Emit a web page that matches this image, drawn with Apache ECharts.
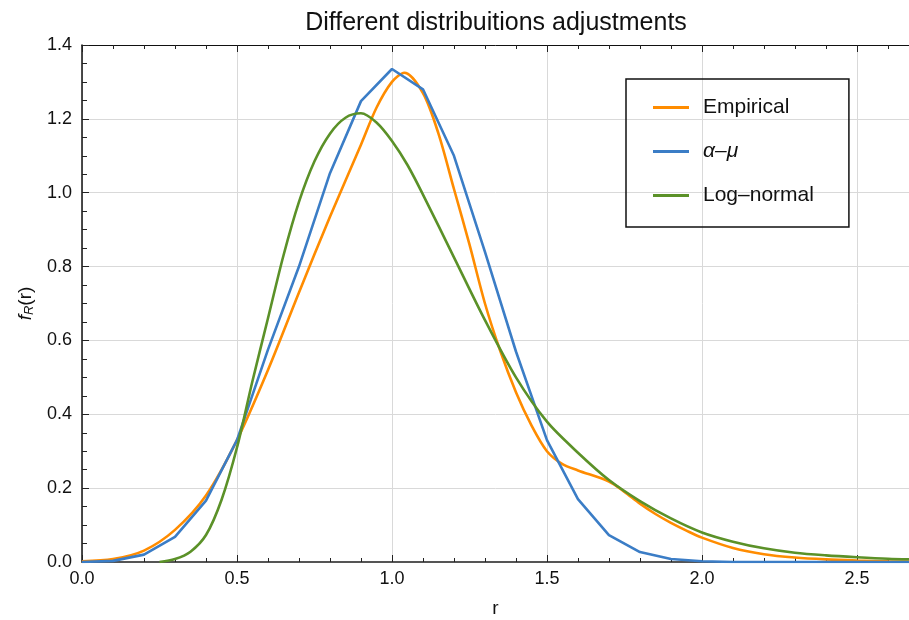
<!DOCTYPE html>
<html lang="en">
<head>
  <meta charset="UTF-8">
  <title>Different distribuitions adjustments</title>
  <script src="https://cdn.jsdelivr.net/npm/echarts@6/dist/echarts.min.js"></script>
</head>
<body style="margin: 0;padding: 0;background: #fff;">
  <div id="main" style="width: 909px;height: 620px;"></div>
  <script>
    // values
    var rEmpirical = [0, 0.1, 0.2, 0.3, 0.4, 0.5, 0.6, 0.7, 0.8, 0.9, 0.95, 1.0, 1.04, 1.1, 1.15, 1.2, 1.25, 1.3, 1.35, 1.4, 1.45, 1.5, 1.55, 1.6, 1.7, 1.75, 1.8, 1.85, 1.9, 1.95, 2.0, 2.1, 2.2, 2.3, 2.4, 2.5, 2.6, 2.7];
    var empirical = [0.002, 0.008, 0.031, 0.087, 0.18, 0.33, 0.52, 0.73, 0.935, 1.13, 1.23, 1.30, 1.325, 1.27, 1.16, 1.01, 0.86, 0.70, 0.57, 0.46, 0.37, 0.30, 0.265, 0.248, 0.218, 0.19, 0.158, 0.13, 0.106, 0.085, 0.066, 0.038, 0.021, 0.012, 0.007, 0.004, 0.002, 0.001];

    var rAlphaMu = [0, 0.1, 0.2, 0.3, 0.4, 0.5, 0.6, 0.7, 0.8, 0.9, 1.0, 1.1, 1.2, 1.3, 1.4, 1.5, 1.6, 1.7, 1.8, 1.9, 2.0, 2.1, 2.2, 2.3, 2.4, 2.5, 2.6, 2.7];
    var alphaMu = [0, 0.003, 0.02, 0.068, 0.166, 0.33, 0.575, 0.80, 1.053, 1.248, 1.335, 1.28, 1.10, 0.84, 0.57, 0.33, 0.17, 0.073, 0.027, 0.008, 0.002, 0, 0, 0, 0, 0, 0, 0];

    var rLogNormal = [0.25, 0.3, 0.35, 0.4, 0.45, 0.5, 0.55, 0.6, 0.65, 0.7, 0.75, 0.8, 0.85, 0.9, 0.95, 1.0, 1.05, 1.1, 1.2, 1.3, 1.4, 1.5, 1.6, 1.7, 1.8, 1.9, 2.0, 2.1, 2.2, 2.3, 2.4, 2.5, 2.6, 2.7];
    var logNormal = [0, 0.008, 0.028, 0.073, 0.168, 0.31, 0.49, 0.66, 0.83, 0.975, 1.085, 1.16, 1.203, 1.215, 1.19, 1.14, 1.075, 0.995, 0.825, 0.655, 0.50, 0.38, 0.296, 0.222, 0.165, 0.118, 0.08, 0.055, 0.037, 0.025, 0.018, 0.013, 0.009, 0.007];

    var xTicks = [0, 0.5, 1.0, 1.5, 2.0, 2.5];
    var yTicks = [0, 0.2, 0.4, 0.6, 0.8, 1.0, 1.2, 1.4];

    function pairs(xs, ys) {
      return xs.map(function (x, i) { return [x, ys[i]]; });
    }

    var font = 'Liberation Sans, Arial, Helvetica, sans-serif';
    var chart = echarts.init(document.getElementById('main'));

    var option = {
      animation: false,
      backgroundColor: '#fff',
      textStyle: { fontFamily: font },
      title: {
        text: 'Different distribuitions adjustments',
        left: 491,
        textAlign: 'center',
        top: 6,
        textStyle: { fontFamily: font, fontSize: 25, fontWeight: 'normal', color: '#111' }
      },
      legend: {
        orient: 'vertical',
        left: 626,
        top: 79,
        padding: [18, 35, 21, 27],
        itemGap: 23,
        itemWidth: 36,
        itemHeight: 3,
        icon: 'rect',
        borderColor: '#111',
        borderWidth: 1.5,
        borderRadius: 0,
        textStyle: {
          fontFamily: font, fontSize: 21, color: '#111', padding: [0, 0, 0, 9],
          rich: { it: { fontStyle: 'italic', fontSize: 21, fontFamily: font, color: '#111' } }
        },
        data: ['Empirical', 'α–μ', 'Log–normal'],
        formatter: function (name) {
          return name === 'α–μ' ? '{it|α–μ}' : name;
        }
      },
      grid: { left: 82, right: 0, top: 45, bottom: 58, containLabel: false, outerBoundsMode: 'none' },
      xAxis: [{
        type: 'value',
        min: 0,
        max: 2.668,
        interval: 0.5,
        name: 'r',
        nameLocation: 'middle',
        nameGap: 37,
        nameTextStyle: { fontFamily: font, fontSize: 19, color: '#111' },
        axisLine: { onZero: false, lineStyle: { color: '#555', width: 2 } },
        axisTick: { inside: true, length: 7, lineStyle: { color: '#222' } },
        minorTick: { show: true, splitNumber: 5, length: 4, lineStyle: { color: '#222' } },
        axisLabel: {
          margin: 8, fontSize: 18, color: '#111', showMaxLabel: false,
          formatter: function (v) { return xTicks.indexOf(v) >= 0 ? v.toFixed(1) : ''; }
        },
        splitLine: { show: true, lineStyle: { color: '#d9d9d9', width: 1 } }
      }, {
        type: 'value',
        position: 'top',
        min: 0,
        max: 2.668,
        interval: 0.5,
        axisLine: { show: true, onZero: false, lineStyle: { color: '#111', width: 1 } },
        axisTick: { inside: true, length: 7, lineStyle: { color: '#222' } },
        minorTick: { show: true, splitNumber: 5, length: 4, lineStyle: { color: '#222' } },
        axisLabel: { show: false },
        splitLine: { show: false }
      }],
      yAxis: {
        type: 'value',
        min: 0,
        max: 1.4,
        interval: 0.2,
        name: '{f|f}{s|R}{n|(r)}',
        nameLocation: 'middle',
        nameRotate: 90,
        nameGap: 38,
        nameTextStyle: {
          color: '#111',
          rich: {
            f: { fontFamily: font, fontStyle: 'italic', fontSize: 19, color: '#111' },
            s: { fontFamily: font, fontStyle: 'italic', fontSize: 13, color: '#111', padding: [8, 0, 0, 0] },
            n: { fontFamily: font, fontSize: 19, color: '#111' }
          }
        },
        axisLine: { show: true, onZero: false, lineStyle: { color: '#111', width: 1.5 } },
        axisTick: { inside: true, length: 7, lineStyle: { color: '#222' } },
        minorTick: { show: true, splitNumber: 4, length: 5, lineStyle: { color: '#222' } },
        axisLabel: {
          margin: 10, fontSize: 18, color: '#111',
          formatter: function (v) { return v.toFixed(1); }
        },
        splitLine: { show: true, lineStyle: { color: '#d9d9d9', width: 1 } }
      },
      series: [
        {
          name: 'Empirical',
          type: 'line',
          data: pairs(rEmpirical, empirical),
          smooth: 0.3,
          showSymbol: false,
          color: '#ff8c00',
          lineStyle: { width: 2.6 },
          z: 3
        },
        {
          name: 'α–μ',
          type: 'line',
          data: pairs(rAlphaMu, alphaMu),
          smooth: false,
          showSymbol: false,
          color: '#3b7dc6',
          lineStyle: { width: 2.6 },
          z: 4
        },
        {
          name: 'Log–normal',
          type: 'line',
          data: pairs(rLogNormal, logNormal),
          smooth: 0.3,
          showSymbol: false,
          color: '#5b9128',
          lineStyle: { width: 2.6 },
          z: 5
        }
      ]
    };

    chart.setOption(option);
  </script>
</body>
</html>
